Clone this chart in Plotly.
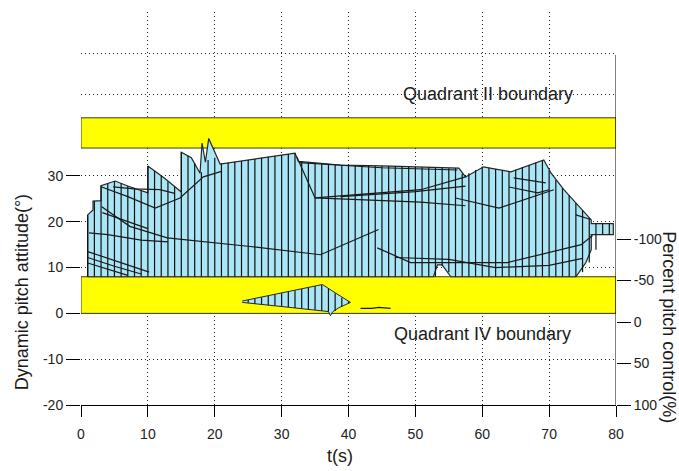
import plotly.graph_objects as go

# ---- data -------------------------------------------------------------
# upper envelope of the pitch-attitude record (t [s], attitude [deg])
env_t = [1.0, 1.0, 1.8, 1.8, 3.0, 3.0, 5.1, 7.0, 10.0, 10.0, 12.5, 15.0, 15.0, 16.5,
         17.8, 18.1, 18.6, 19.1, 20.8, 25.0, 28.0, 32.0, 32.5, 38.8, 45.0, 50.0,
         56.5, 57.5, 60.2, 62.0, 64.3, 69.2, 70.3, 72.2, 76.3, 76.3, 79.6, 79.6,
         76.3, 76.3, 75.5, 74.5, 74.0, 55.3, 54.0, 53.3, 52.7, 1.0]
env_y = [8.0, 21.5, 22.6, 24.5, 24.6, 27.9, 28.9, 27.8, 26.3, 32.2, 29.5, 26.5, 35.2, 34.0,
         30.6, 37.2, 33.0, 38.2, 32.6, 33.5, 34.2, 35.0, 33.2, 32.4, 32.2, 32.0,
         31.7, 29.8, 32.0, 31.5, 30.9, 33.5, 30.6, 27.0, 20.4, 19.6, 19.6, 17.2,
         17.2, 13.9, 11.1, 9.0, 8.0, 8.0, 10.6, 10.6, 8.0, 8.0]

# one stem per second: top and base attitude (deg)
stem_t = list(range(1, 80))
stem_top = [21.5, 24.5, 27.9, 28.4, 28.9, 28.4, 27.8, 27.3, 26.8, 32.2,
            31.1, 30.0, 28.8, 27.6, 35.2, 34.4, 32.7, 30.8, 33.5, 34.0,
            32.7, 32.9, 33.1, 33.3, 33.5, 33.7, 34.0, 34.2, 34.4, 34.6,
            34.8, 35.0, 33.2, 33.0, 32.9, 32.8, 32.6, 32.5, 32.4, 32.4,
            32.4, 32.3, 32.3, 32.2, 32.2, 32.2, 32.1, 32.1, 32.0, 32.0,
            31.9, 31.9, 31.8, 31.8, 31.7, 31.7, 30.5, 30.6, 31.3, 32.0,
            31.8, 31.5, 31.2, 31.0, 31.4, 31.9, 32.4, 32.9, 33.4, 31.2,
            29.1, 27.3, 25.8, 24.1, 22.5, 20.9, 19.6, 19.6, 19.6]
stem_base = [8.0] * 52 + [8.0, 10.4, 9.0] + [8.0] * 18 + [8.0, 9.0, 11.1, 13.9, 17.2, 17.2, 17.2]

# traces of the individual runs inside the envelope
runs = [
    ([3.1, 7.0, 11.1, 14.8, 18.3, 21.0], [27.6, 25.5, 23.0, 25.2, 29.8, 31.0]),
    ([4.8, 8.0, 11.8, 14.0], [27.6, 27.2, 27.0, 26.2]),
    ([3.1, 7.3, 12.9, 25.3, 35.8, 44.5], [23.3, 19.0, 16.5, 14.6, 12.8, 18.3]),
    ([1.2, 4.0, 9.0, 13.0], [17.6, 17.2, 16.0, 15.6]),
    ([3.2, 6.0, 10.0], [22.0, 20.5, 18.5]),
    ([1.0, 5.0, 10.2], [13.5, 11.5, 9.0]),
    ([1.0, 5.0, 9.0], [12.2, 10.3, 8.6]),
    ([1.0, 4.0, 7.0], [11.0, 9.6, 8.3]),
    ([44.3, 49.3, 63.8, 74.8, 76.5], [14.3, 11.1, 11.1, 15.0, 17.0]),
    ([47.0, 55.0, 62.0, 70.0, 75.0], [12.2, 11.8, 10.0, 10.5, 12.0]),
    ([32.3, 35.0, 50.8, 57.5], [34.1, 25.2, 24.3, 23.5]),
    ([35.0, 50.8, 57.5], [25.2, 27.0, 29.8]),
    ([56.0, 62.5, 70.7], [25.2, 23.0, 27.0]),
    ([64.0, 68.3, 70.0], [27.6, 26.3, 27.0]),
    ([64.7, 69.5], [29.6, 28.5]),
    ([32.6, 45.0, 56.3], [32.9, 31.8, 31.3]),
    ([38.8, 50.0, 57.5], [25.5, 26.6, 27.8]),
    ([74.0, 76.2], [21.5, 20.5]),
]

# short excursion inside the lower boundary band
low_t = [24.1, 27.0, 30.0, 33.0, 36.1, 38.0, 40.3, 38.5, 37.6, 37.3, 37.0, 30.0, 24.1]
low_y = [2.7, 3.6, 4.5, 5.5, 6.3, 4.5, 2.4, 1.2, 0.3, -0.5, 0.4, 1.5, 2.4]
low_stem_t = list(range(25, 41))
low_stem_top = [2.9, 3.2, 3.5, 3.8, 4.1, 4.4, 4.7, 5.0, 5.3, 5.6, 5.9, 6.2, 5.4, 4.4, 3.4, 2.6]
low_stem_base = [2.3, 2.1, 2.0, 1.8, 1.7, 1.5, 1.4, 1.2, 1.1, 0.9, 0.8, 0.6, 0.4, 0.5, 1.5, 2.2]
tail_t = [41.8, 43.5, 44.5, 46.3]
tail_y = [1.1, 1.1, 1.3, 1.1]

# quadrant boundary bands (deg)
quad2_band = (36.1, 42.7)
quad4_band = (0.0, 8.0)

x_ticks = [0, 10, 20, 30, 40, 50, 60, 70, 80]
att_ticks = [-20, -10, 0, 10, 20, 30]
att_labels = ["-20", "-10", "0", "10", "20", "30"]
upper_grid = [38.9, 47.8, 56.7, 65.7]
pct_ticks = [-100, -50, 0, 50, 100]
pct_labels = ["-100", "-50", "0", "50", "100"]

# ---- figure -------------------------------------------------------------
FONT = "Liberation Sans, Arial, sans-serif"
BLUE = "#AAE6F6"
EDGE = "#262626"
DOT = "1px,3px"

fig = go.Figure()


def band(lo, hi):
    fig.add_trace(go.Scatter(
        x=[0, 80, 80, 0, 0], y=[lo, lo, hi, hi, lo], mode="lines",
        fill="toself", fillcolor="#FFFF00", line=dict(color="#3a3a1a", width=1),
        hoverinfo="skip", showlegend=False))


band(*quad2_band)
band(*quad4_band)

# envelope fill
fig.add_trace(go.Scatter(x=env_t, y=env_y, mode="lines", fill="toself",
                         fillcolor=BLUE, line=dict(color=EDGE, width=1.2),
                         hoverinfo="skip", showlegend=False))

# stems
sx, sy = [], []
for t, b, top in zip(stem_t, stem_base, stem_top):
    sx += [t, t, None]
    sy += [b, top, None]
fig.add_trace(go.Scatter(x=sx, y=sy, mode="lines", line=dict(color="#101010", width=1.2),
                         hoverinfo="skip", showlegend=False))

# inner run traces
for rt, ry in runs:
    fig.add_trace(go.Scatter(x=rt, y=ry, mode="lines", line=dict(color="#1a1a1a", width=1.2),
                             hoverinfo="skip", showlegend=False))

# lower excursion
fig.add_trace(go.Scatter(x=low_t, y=low_y, mode="lines", fill="toself",
                         fillcolor=BLUE, line=dict(color=EDGE, width=1),
                         hoverinfo="skip", showlegend=False))
lx, ly = [], []
for t, b, top in zip(low_stem_t, low_stem_base, low_stem_top):
    lx += [t, t, None]
    ly += [b, top, None]
fig.add_trace(go.Scatter(x=lx, y=ly, mode="lines", line=dict(color="#101010", width=1.2),
                         hoverinfo="skip", showlegend=False))
fig.add_trace(go.Scatter(x=tail_t, y=tail_y, mode="lines", line=dict(color="#1a1a1a", width=1.2),
                         hoverinfo="skip", showlegend=False))

# empty trace to carry the percent axis
fig.add_trace(go.Scatter(x=[None], y=[None], yaxis="y2", showlegend=False, hoverinfo="skip"))

tick_font = dict(family=FONT, size=14, color="#222222")
grid = dict(showgrid=True, gridcolor="#222222", griddash=DOT, gridwidth=1)
title_font = dict(family=FONT, size=18, color="#1a1a1a")

fig.update_layout(
    width=679, height=471,
    margin=dict(l=81, r=63, t=12, b=66),
    paper_bgcolor="white", plot_bgcolor="white",
    font=dict(family=FONT, size=14, color="#1a1a1a"),
    xaxis=dict(range=[0, 80], tickmode="array", tickvals=x_ticks, ticks="outside",
               ticklen=11, tickcolor="#000", showline=True, linecolor="#000", linewidth=1,
               zeroline=False, tickfont=tick_font, ticklabelstandoff=5, **grid),
    yaxis=dict(range=[-20, 65.8], tickmode="array", tickvals=att_ticks, ticktext=att_labels,
               ticks="outside", ticklen=14, tickcolor="#000", showline=False, zeroline=False,
               tickfont=tick_font, **grid,
               minor=dict(tickmode="array", tickvals=upper_grid, showgrid=True,
                          gridcolor="#222222", griddash=DOT, gridwidth=1, ticks="")),
    yaxis2=dict(overlaying="y", side="right", range=[100, -373.5], tickmode="array",
                tickvals=pct_ticks, ticktext=pct_labels, ticks="outside", ticklen=14,
                tickcolor="#000", showline=False, showgrid=False, zeroline=False,
                tickfont=tick_font),
    shapes=[dict(type="line", xref="x", yref="y2", x0=80, x1=80, y0=100, y1=-321.7,
                 line=dict(color="#000", width=1), layer="above")],
    annotations=[
        dict(text="Quadrant II boundary", x=60.8, y=47.9, xref="x", yref="y",
             showarrow=False, font=title_font),
        dict(text="Quadrant IV boundary", x=60.1, y=-4.5, xref="x", yref="y",
             showarrow=False, font=title_font),
        dict(text="Dynamic pitch attitude(°)", x=-0.110, y=0.2875, xref="paper", yref="paper",
             xanchor="center", yanchor="middle",
             textangle=-90, showarrow=False, font=title_font),
        dict(text="Percent pitch control(%)", x=1.099, y=0.198, xref="paper", yref="paper",
             xanchor="center", yanchor="middle",
             textangle=90, showarrow=False, font=title_font),
        dict(text="t(s)", x=0.484, y=-0.13, xref="paper", yref="paper",
             xanchor="center", yanchor="middle", showarrow=False, font=title_font),
    ],
)

fig.write_html("out.html")
